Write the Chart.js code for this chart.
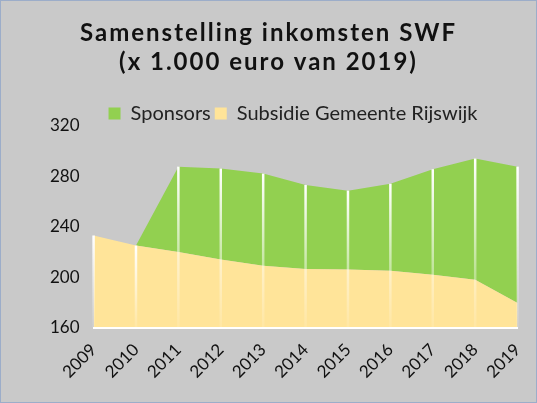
<!DOCTYPE html>
<html>
<head>
<meta charset="utf-8">
<script src="https://cdn.jsdelivr.net/npm/chart.js@4"></script>
<style>
  body { margin: 0; }
  #wrap { width: 537px; height: 403px; box-sizing: border-box; border: 1px solid #9cadc9; background: #c9c9c9; }
</style>
</head>
<body>
<div id="wrap"><canvas id="myChart" width="535" height="401"></canvas></div>
<script>
const years = ["2009", "2010", "2011", "2012", "2013", "2014", "2015", "2016", "2017", "2018", "2019"];
const subsidie = [233, 225, 220, 214, 209, 206.5, 206, 205, 202, 198, 179.5];
const sponsors = [0, 0, 67.5, 72, 73, 66.5, 62.5, 69, 83.5, 96, 108];
const yTicks = [160, 200, 240, 280, 320];

// white fading lines on top of the areas, one per year
const yearLines = {
  id: "yearLines",
  afterDatasetsDraw: chart => {
    const ctx = chart.ctx;
    const x = chart.scales.x;
    const top = chart.getDatasetMeta(1).data;
    const bottom = chart.chartArea.bottom;
    years.forEach((el, i) => {
      const px = x.getPixelForValue(i);
      const py = top[i].y;
      const g = ctx.createLinearGradient(0, py, 0, bottom);
      g.addColorStop(0, "rgba(255,255,255,1)");
      g.addColorStop(1, "rgba(255,255,255,0.1)");
      ctx.save();
      ctx.strokeStyle = g;
      ctx.lineWidth = 2.5;
      ctx.beginPath();
      ctx.moveTo(px, py);
      ctx.lineTo(px, bottom);
      ctx.stroke();
      ctx.restore();
    });
  }
};

// redraw the title with letter spacing
const spacedTitle = {
  id: "spacedTitle",
  afterDraw: chart => {
    const t = chart.titleBlock;
    const ctx = chart.ctx;
    ctx.save();
    ctx.letterSpacing = "2px";
    t.options.color = "#111";
    t.draw();
    t.options.color = "transparent";
    ctx.restore();
  }
};

// legend takes a bit less room below it, title centred on the whole canvas
const tightLegend = {
  id: "tightLegend",
  beforeInit: chart => {
    const fit = chart.legend.fit;
    chart.legend.fit = function () {
      fit.call(this);
      this.height -= 8;
    };
  },
  afterLayout: chart => {
    chart.titleBlock.left = 0;
    chart.titleBlock.right = chart.width;
    chart.legend.left += 7;
    chart.legend.right += 7;
  }
};

const drawCanvas = () => {
  const ctx = document.getElementById("myChart").getContext("2d");

  new Chart(ctx, {
    type: "line",
    data: {
      labels: years,
      datasets: [
        {
          label: "Subsidie Gemeente Rijswijk",
          data: subsidie,
          backgroundColor: "#ffe499",
          borderWidth: 0,
          pointRadius: 0,
          fill: "start"
        },
        {
          label: "Sponsors",
          data: sponsors,
          backgroundColor: "#92d050",
          borderWidth: 0,
          pointRadius: 0,
          fill: "-1"
        }
      ]
    },
    options: {
      responsive: false,
      animation: false,
      layout: { padding: { left: 43, right: 8, bottom: 16, top: 18 } },
      plugins: {
        title: {
          display: true,
          text: ["Samenstelling inkomsten SWF", "(x 1.000 euro van 2019)"],
          color: "transparent",
          font: { family: "Lato", size: 24, weight: "bold" },
          lineHeight: 1.4,
          padding: { top: 0, bottom: 23 }
        },
        legend: {
          labels: {
            color: "#222",
            font: { family: "Lato", size: 20 },
            boxWidth: 12,
            boxHeight: 12,
            padding: 4,
            sort: (a, b) => b.datasetIndex - a.datasetIndex
          }
        },
        tooltip: { enabled: false }
      },
      scales: {
        x: {
          offset: false,
          grid: { display: false },
          border: { display: true, color: "#ffffff", width: 2, z: 1 },
          ticks: {
            color: "#111",
            font: { family: "Lato", size: 17 },
            minRotation: 45,
            maxRotation: 45,
            padding: 4
          }
        },
        y: {
          stacked: true,
          min: yTicks[0],
          max: yTicks[yTicks.length - 1],
          grid: { display: false },
          border: { display: false },
          afterBuildTicks: axis => {
            axis.ticks = yTicks.map(v => ({ value: v }));
          },
          ticks: {
            color: "#111",
            font: { family: "Lato", size: 17 },
            padding: 6
          }
        }
      }
    },
    plugins: [yearLines, spacedTitle, tightLegend]
  });
};

drawCanvas();
</script>
</body>
</html>
